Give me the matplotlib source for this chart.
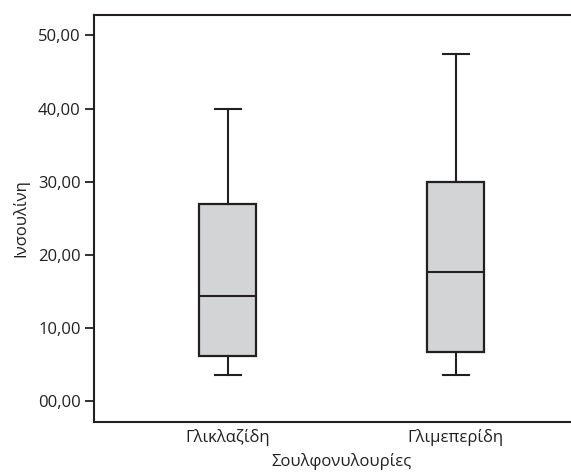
import matplotlib
matplotlib.use("Agg")
import matplotlib.pyplot as plt

# Datos
categorias = ["Γλικλαζίδη", "Γλιμεπερίδη"]
bigotes_inf = [3.5, 3.5]
q1 = [6.2, 6.7]
medianas = [14.3, 17.6]
q3 = [27.0, 29.9]
bigotes_sup = [40.0, 47.4]
ticks_y = [0, 10, 20, 30, 40, 50]

plt.rcParams["font.family"] = ["Open Sans", "DejaVu Sans"]
color_linea = "#231f20"

fig = plt.figure(figsize=(5.71, 4.74), dpi=100)
ax = fig.add_axes([94 / 571, 52 / 474, 496 / 571, 407 / 474])

stats = []
for i in range(len(categorias)):
    stats.append({
        "whislo": bigotes_inf[i],
        "q1": q1[i],
        "med": medianas[i],
        "q3": q3[i],
        "whishi": bigotes_sup[i],
        "fliers": [],
    })

ax.bxp(
    stats,
    positions=[1, 2],
    widths=0.252,
    patch_artist=True,
    showfliers=False,
    boxprops={"facecolor": "#d3d4d6", "edgecolor": color_linea, "linewidth": 1.6},
    medianprops={"color": color_linea, "linewidth": 1.5},
    whiskerprops={"color": color_linea, "linewidth": 1.5},
    capprops={"color": color_linea, "linewidth": 1.5},
    capwidths=0.114,
)

ax.set_xlim(0.413, 2.59)
ax.set_ylim(-2.87, 52.8)
ax.set_xticks([1, 2])
ax.set_xticklabels(categorias)
ax.set_yticks(ticks_y)
ax.set_yticklabels([f"{v:05.2f}".replace(".", ",") for v in ticks_y])

ax.tick_params(axis="x", length=0, pad=5, labelsize=12, labelcolor=color_linea)
ax.tick_params(axis="y", length=6.5, width=1.3, pad=3, labelsize=12,
               color=color_linea, labelcolor=color_linea)

for lado in ["left", "right", "top", "bottom"]:
    ax.spines[lado].set_linewidth(1.5)
    ax.spines[lado].set_color(color_linea)

ax.set_xlabel("Σουλφονυλουρίες", fontsize=12, color=color_linea, labelpad=5)
ax.set_ylabel("Ινσουλίνη", fontsize=12, color=color_linea, labelpad=6)

fig.savefig("out.png", dpi=100)
